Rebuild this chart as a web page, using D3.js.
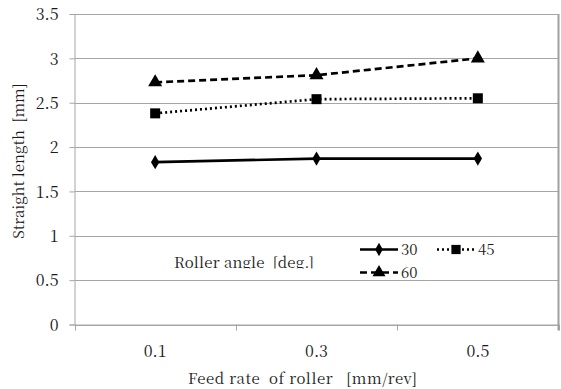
<!DOCTYPE html>
<html>
<head>
<meta charset="utf-8">
<script src="https://cdn.jsdelivr.net/npm/d3@7"></script>
<style>
  html, body { margin: 0; padding: 0; background: #fff; }
</style>
</head>
<body>
<svg id="chart" width="561" height="389"></svg>
<script>
// Feed rate categories (mm/rev)
const categories = ["0.1", "0.3", "0.5"];
// Straight length (mm) per roller angle
const angle30 = [1.83, 1.87, 1.87];
const angle45 = [2.38, 2.54, 2.55];
const angle60 = [2.73, 2.81, 3.00];
const yTicks = [0, 0.5, 1, 1.5, 2, 2.5, 3, 3.5];
const seriesNames = ["30", "45", "60"];

const FONT = "'Noto Serif CJK JP', 'Liberation Serif', serif";
const INK = "#1a1a1a";

const svg = d3.select("#chart");
const m = { left: 74.5, right: 558.5, top: 14, bottom: 324.5 };

const x = d3.scaleBand().domain(categories).range([m.left, m.right]);
const y = d3.scaleLinear().domain([0, 3.5]).range([m.bottom, m.top]);

const grid = "#a6a6a6";

function styleText(sel, size) {
  return sel.style("font-family", FONT).style("font-size", size + "px")
    .style("white-space", "pre").attr("fill", INK);
}

// horizontal gridlines
svg.append("g").selectAll("line").data(yTicks).join("line")
  .attr("x1", m.left).attr("x2", m.right)
  .attr("y1", d => Math.round(y(d)) + 0.5).attr("y2", d => Math.round(y(d)) + 0.5)
  .attr("stroke", grid).attr("stroke-width", 1);

// y axis
const yAxis = svg.append("g")
  .attr("transform", `translate(${m.left},0)`)
  .call(d3.axisLeft(y).tickValues(yTicks).tickSize(5).tickPadding(11).tickFormat(d3.format("")));
yAxis.attr("font-family", null).attr("font-size", null);
yAxis.select(".domain").attr("stroke", grid);
yAxis.selectAll(".tick line").attr("stroke", grid);
styleText(yAxis.selectAll(".tick text"), 16).attr("dy", "0.36em");

// x axis
const xAxis = svg.append("g")
  .attr("transform", `translate(0,${m.bottom})`)
  .call(d3.axisBottom(x).tickSize(0).tickPadding(21));
xAxis.attr("font-family", null).attr("font-size", null);
xAxis.select(".domain").attr("stroke", grid);
styleText(xAxis.selectAll(".tick text"), 16);
// tick marks at category boundaries
const bounds = categories.map(c => x(c)).concat([m.right]);
xAxis.append("g").selectAll("line").data(bounds).join("line")
  .attr("x1", d => Math.round(d) + 0.5).attr("x2", d => Math.round(d) + 0.5)
  .attr("y1", 0).attr("y2", 6).attr("stroke", grid);

// right frame
svg.append("line")
  .attr("x1", m.right).attr("x2", m.right)
  .attr("y1", m.top).attr("y2", m.bottom + 6)
  .attr("stroke", "#a0a0a0").attr("stroke-width", 2);

// axis titles
styleText(svg.append("text"), 15)
  .attr("x", 188).attr("y", 384)
  .attr("textLength", 229).attr("lengthAdjust", "spacing")
  .text("Feed rate  of roller   [mm/rev]");
styleText(svg.append("text"), 15)
  .attr("transform", `translate(24,161) rotate(-90)`)
  .attr("text-anchor", "middle")
  .text("Straight length  [mm]");

// series
const series = [
  { name: seriesNames[0], values: angle30, dash: null, symbol: d3.symbolDiamond, size: 60 },
  { name: seriesNames[1], values: angle45, dash: "2,3", symbol: d3.symbolSquare, size: 100 },
  { name: seriesNames[2], values: angle60, dash: "7,4", symbol: d3.symbolTriangle, size: 85 }
];
const cx = c => x(c) + x.bandwidth() / 2;
const line = d3.line().x((d, i) => cx(categories[i])).y(d => y(d));

series.forEach(s => {
  svg.append("path")
    .attr("d", line(s.values))
    .attr("fill", "none").attr("stroke", "#000").attr("stroke-width", 2.7)
    .attr("stroke-dasharray", s.dash);
  svg.append("g").selectAll("path").data(s.values).join("path")
    .attr("transform", (d, i) => `translate(${cx(categories[i])},${y(d)})`)
    .attr("d", d3.symbol().type(s.symbol).size(s.size))
    .attr("fill", "#000");
});

// legend
const legendPos = [
  { lx: 360, ly: 249.5 },
  { lx: 437, ly: 249.5 },
  { lx: 360, ly: 272.5 }
];
series.forEach((s, i) => {
  const p = legendPos[i];
  const g = svg.append("g");
  g.append("line")
    .attr("x1", p.lx).attr("x2", p.lx + 38).attr("y1", p.ly).attr("y2", p.ly)
    .attr("stroke", "#000").attr("stroke-width", 2.5).attr("stroke-dasharray", s.dash);
  g.append("path")
    .attr("transform", `translate(${p.lx + 19},${p.ly})`)
    .attr("d", d3.symbol().type(s.symbol).size(s.size * 0.85))
    .attr("fill", "#000");
  styleText(g.append("text"), 15)
    .attr("x", p.lx + 41).attr("y", p.ly + 5.5)
    .text(s.name);
});

// legend title, cut off along its lower edge
svg.append("clipPath").attr("id", "titleClip")
  .append("rect").attr("x", 150).attr("y", 240).attr("width", 200).attr("height", 28.5);
styleText(svg.append("text"), 15)
  .attr("clip-path", "url(#titleClip)")
  .attr("x", 174).attr("y", 268)
  .attr("textLength", 140).attr("lengthAdjust", "spacing")
  .text("Roller angle  [deg.]");
</script>
</body>
</html>
